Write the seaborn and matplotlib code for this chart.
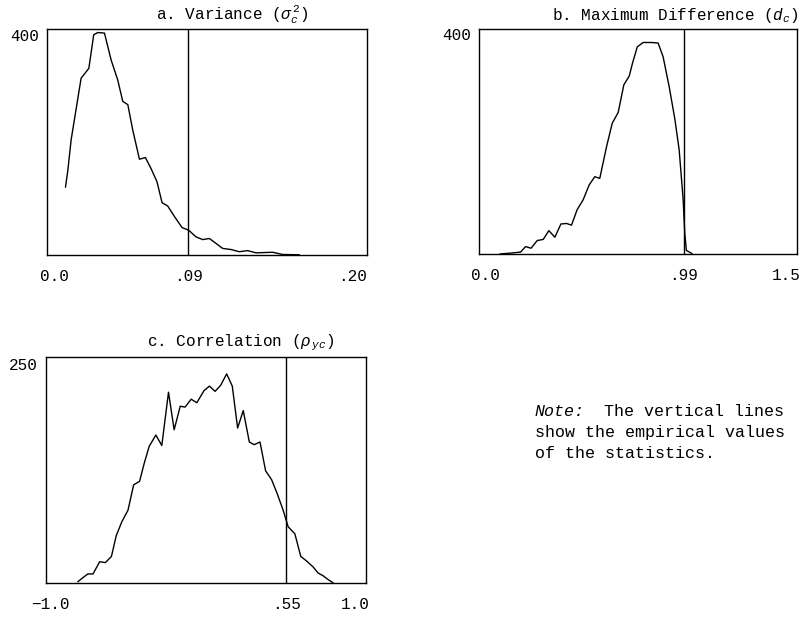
import matplotlib
matplotlib.use("Agg")
import matplotlib.pyplot as plt
import seaborn as sns

# sampling distributions
var_x = [0.0074, 0.0090, 0.0112, 0.0179, 0.0231, 0.0264, 0.0291, 0.0336, 0.0381,
         0.0425, 0.0459, 0.0493, 0.0526, 0.0571, 0.0611, 0.0649, 0.0689, 0.0723,
         0.0761, 0.0806, 0.0857, 0.0902, 0.0951, 0.0996, 0.1041, 0.1086, 0.1130,
         0.1186, 0.1242, 0.1298, 0.1354, 0.1466, 0.1533, 0.1645]
var_y = [123, 154, 209, 321, 339, 400, 404, 403, 354, 318, 279, 273, 227, 174,
         177, 157, 133, 95, 89, 70, 50, 45, 33, 28, 30, 21, 12, 10, 6, 8, 4, 5, 1, 0.5]

maxdiff_x = [0.073, 0.123, 0.176, 0.201, 0.228, 0.259, 0.289, 0.317, 0.347, 0.377,
             0.405, 0.430, 0.458, 0.488, 0.518, 0.546, 0.571, 0.605, 0.633, 0.663,
             0.691, 0.718, 0.734, 0.758, 0.787, 0.829, 0.862, 0.887, 0.917, 0.945,
             0.967, 0.987, 0.995, 1.003, 1.028, 1.033]
maxdiff_y = [0.6, 2, 4, 14, 11, 25, 27, 43, 31, 55, 56, 53, 81, 99, 126, 141, 138,
             196, 238, 258, 308, 324, 347, 377, 385, 385, 384, 359, 305, 247, 190,
             99, 38, 7, 2, 0]

corr_x = [-0.821, -0.793, -0.755, -0.721, -0.677, -0.640, -0.600, -0.568, -0.531,
          -0.491, -0.454, -0.415, -0.384, -0.352, -0.308, -0.269, -0.225, -0.188,
          -0.148, -0.116, -0.076, -0.039, 0.009, 0.044, 0.081, 0.118, 0.157, 0.194,
          0.229, 0.266, 0.306, 0.338, 0.376, 0.413, 0.452, 0.489, 0.528, 0.561,
          0.605, 0.644, 0.681, 0.725, 0.758, 0.790, 0.828, 0.856]
corr_y = [1, 5, 10, 10, 24, 23, 30, 54, 70, 83, 112, 116, 137, 156, 169, 157, 218,
          175, 202, 201, 210, 206, 220, 225, 219, 226, 239, 225, 177, 197, 161, 158,
          161, 128, 118, 102, 83, 64, 56, 30, 25, 18, 11, 8, 3, 0]

# empirical values (vertical lines)
var_emp, maxdiff_emp, corr_emp = 0.09, 0.99, 0.55

titles = [r"a. Variance ($\sigma^{\,2}_{c}$)",
          r"b. Maximum Difference ($d_c$)",
          r"c. Correlation ($\rho_{\,yc}$)"]
xtick_pos = [[0, 0.09, 0.20], [0, 0.99, 1.5], [-1.0, 0.55, 1.0]]
xtick_lab = [["0.0", ".09", ".20"], ["0.0", ".99", "1.5"], ["\u22121.0", ".55", "1.0"]]
ytop = [400, 400, 250]

sns.set_theme(style="white")
plt.rcParams["font.family"] = ["Liberation Mono", "DejaVu Sans Mono"]
plt.rcParams["mathtext.fontset"] = "custom"
plt.rcParams["mathtext.rm"] = "Liberation Mono"
plt.rcParams["mathtext.it"] = "Liberation Mono:italic"

fig = plt.figure(figsize=(8.05, 6.22), dpi=100)
ax_a = fig.add_axes([0.0584, 0.590, 0.3975, 0.363])
ax_b = fig.add_axes([0.5954, 0.5912, 0.3947, 0.3617])
ax_c = fig.add_axes([0.0571, 0.0632, 0.3971, 0.3624])
axes = [ax_a, ax_b, ax_c]

sns.lineplot(x=var_x, y=var_y, ax=ax_a, color="black", lw=1, sort=False, estimator=None)
sns.lineplot(x=maxdiff_x, y=maxdiff_y, ax=ax_b, color="black", lw=1, sort=False, estimator=None)
sns.lineplot(x=corr_x, y=corr_y, ax=ax_c, color="black", lw=1, sort=False, estimator=None)

for ax, v in zip(axes, [var_emp, maxdiff_emp, corr_emp]):
    ax.axvline(v, color="black", lw=1)

ax_a.set_xlim(-0.005, 0.21)
ax_a.set_ylim(0, 410)
ax_b.set_xlim(-0.03, 1.555)
ax_b.set_ylim(0, 409)
ax_c.set_xlim(-1.03, 1.07)
ax_c.set_ylim(0, 258)

title_x = [0.58, 0.616, 0.61]
for ax, t, tx, xp, xl, yt in zip(axes, titles, title_x, xtick_pos, xtick_lab, ytop):
    ax.set_xticks(xp)
    ax.set_xticklabels(xl)
    ax.set_yticks([yt])
    ax.set_yticklabels([str(yt)])
    ax.tick_params(axis="x", length=0, pad=10, labelsize=11.5, colors="black")
    ax.tick_params(axis="y", length=0, pad=6, labelsize=11.5, colors="black")
    for s in ax.spines.values():
        s.set_visible(True)
        s.set_color("black")
        s.set_linewidth(1.0)
    ax.text(tx, 1.063, t, transform=ax.transAxes, ha="center", va="center",
            fontsize=11.5, color="black")

# note
fig.text(535 / 805, 1 - 411.7 / 622, "Note:", style="italic", fontsize=12,
         va="center", ha="left", color="black")
fig.text(604 / 805, 1 - 411.7 / 622, "The vertical lines", fontsize=12,
         va="center", ha="left", color="black")
fig.text(535 / 805, 1 - 432 / 622, "show the empirical values", fontsize=12,
         va="center", ha="left", color="black")
fig.text(535 / 805, 1 - 453 / 622, "of the statistics.", fontsize=12,
         va="center", ha="left", color="black")

fig.savefig("out.png", dpi=100)
